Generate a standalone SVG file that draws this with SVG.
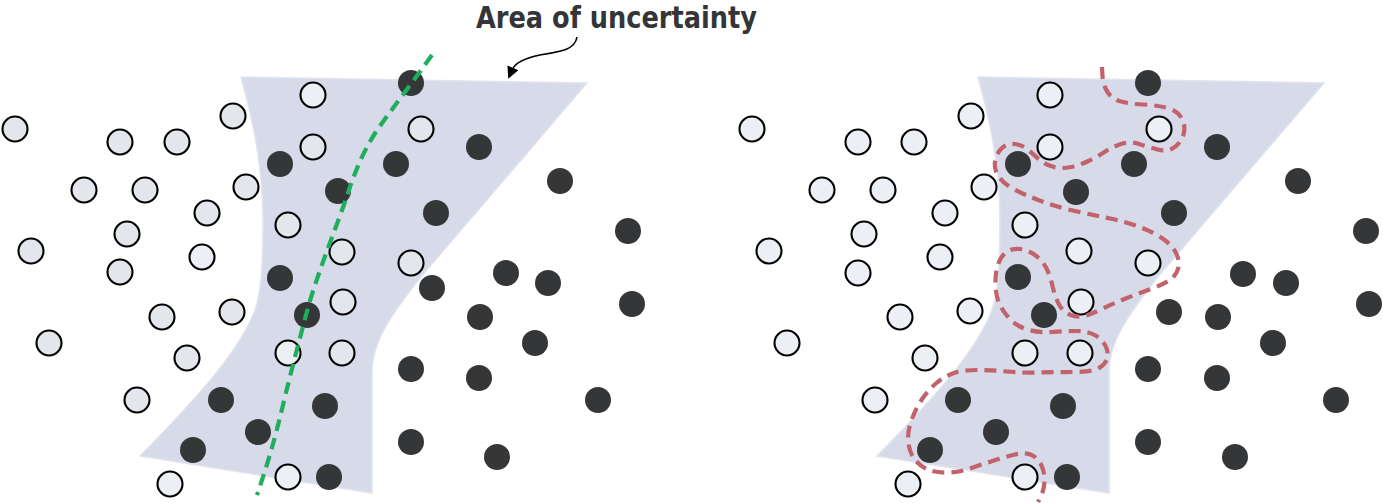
<svg xmlns="http://www.w3.org/2000/svg" width="1383" height="503" viewBox="0 0 1383 503">
<style>
.region{fill:#d6dae9;stroke:#e1e4ee;stroke-width:1.5}
.lt{fill:#e3e6ea;stroke:#000;stroke-width:2.1}
.lt2{fill:#eceff3;stroke:#000;stroke-width:2.1}
.dk{fill:#353638}
.green{fill:none;stroke:#1fae5a;stroke-width:4.2;stroke-dasharray:12 7}
.red{fill:none;stroke:#c2626b;stroke-width:4.2;stroke-dasharray:12 7}
.label{font-family:"DejaVu Sans Condensed","DejaVu Sans",sans-serif;font-stretch:condensed;font-weight:bold;font-size:31px;fill:#333538}
</style>
<defs>
<path id="shape" d="M241,77 L587,83 L420,278 C395,310 372,340 372,372 L372,493 L140,456 C200,395 240,350 255,310 C262,290 263,260 263,220 C263,160 250,110 241,77 Z"/>
<marker id="ah" viewBox="0 0 10 10" refX="2" refY="5" markerWidth="12" markerHeight="12" markerUnits="userSpaceOnUse" orient="auto">
<path d="M0,0 L10,5 L0,10 z" fill="#000"/>
</marker>
</defs>
<g id="left-panel">
<use href="#shape" class="region"/>
<g id="left-points">
<circle class="lt" cx="15" cy="129" r="12.5"/>
<circle class="lt" cx="120" cy="142" r="12.5"/>
<circle class="lt" cx="177" cy="142" r="12.5"/>
<circle class="lt" cx="233" cy="116" r="12.5"/>
<circle class="lt" cx="84" cy="190" r="12.5"/>
<circle class="lt" cx="145" cy="190" r="12.5"/>
<circle class="lt" cx="246" cy="187" r="12.5"/>
<circle class="lt" cx="207" cy="213" r="12.5"/>
<circle class="lt" cx="127" cy="234" r="12.5"/>
<circle class="lt" cx="31" cy="251" r="12.5"/>
<circle class="lt2" cx="202" cy="257" r="12.5"/>
<circle class="lt" cx="120" cy="272" r="12.5"/>
<circle class="lt" cx="162" cy="317" r="12.5"/>
<circle class="lt" cx="232" cy="312" r="12.5"/>
<circle class="lt" cx="49" cy="343" r="12.5"/>
<circle class="lt" cx="187" cy="358" r="12.5"/>
<circle class="lt" cx="137" cy="400" r="12.5"/>
<circle class="lt2" cx="170" cy="484" r="12.5"/>
<circle class="lt2" cx="313" cy="95" r="12.5"/>
<circle class="lt" cx="313" cy="147" r="12.5"/>
<circle class="lt" cx="288" cy="225" r="12.5"/>
<circle class="lt" cx="342" cy="252" r="12.5"/>
<circle class="lt" cx="343" cy="302" r="12.5"/>
<circle class="lt2" cx="288" cy="353" r="12.5"/>
<circle class="lt" cx="342" cy="353" r="12.5"/>
<circle class="lt2" cx="288" cy="477" r="12.5"/>
<circle class="lt" cx="421" cy="129" r="12.5"/>
<circle class="lt" cx="411" cy="263" r="12.5"/>
<circle class="dk" cx="280" cy="164" r="13"/>
<circle class="dk" cx="338" cy="191" r="13"/>
<circle class="dk" cx="280" cy="278" r="13"/>
<circle class="dk" cx="307" cy="315" r="13"/>
<circle class="dk" cx="221" cy="400" r="13"/>
<circle class="dk" cx="258" cy="432" r="13"/>
<circle class="dk" cx="193" cy="450" r="13"/>
<circle class="dk" cx="325" cy="406" r="13"/>
<circle class="dk" cx="329" cy="477" r="13"/>
<circle class="dk" cx="411" cy="83" r="13"/>
<circle class="dk" cx="479" cy="147" r="13"/>
<circle class="dk" cx="396" cy="164" r="13"/>
<circle class="dk" cx="560" cy="181" r="13"/>
<circle class="dk" cx="436" cy="213" r="13"/>
<circle class="dk" cx="628" cy="231" r="13"/>
<circle class="dk" cx="506" cy="273" r="13"/>
<circle class="dk" cx="548" cy="283" r="13"/>
<circle class="dk" cx="432" cy="288" r="13"/>
<circle class="dk" cx="632" cy="304" r="13"/>
<circle class="dk" cx="480" cy="317" r="13"/>
<circle class="dk" cx="535" cy="343" r="13"/>
<circle class="dk" cx="411" cy="369" r="13"/>
<circle class="dk" cx="479" cy="378" r="13"/>
<circle class="dk" cx="598" cy="400" r="13"/>
<circle class="dk" cx="411" cy="442" r="13"/>
<circle class="dk" cx="497" cy="457" r="13"/>
</g>
</g>
<g id="right-panel">
<use href="#shape" class="region" transform="translate(737,0)"/>
<g id="right-points">
<circle class="lt2" cx="752" cy="129" r="12.5"/>
<circle class="lt2" cx="858" cy="142" r="12.5"/>
<circle class="lt2" cx="914" cy="142" r="12.5"/>
<circle class="lt2" cx="971" cy="116" r="12.5"/>
<circle class="lt2" cx="822" cy="190" r="12.5"/>
<circle class="lt2" cx="883" cy="190" r="12.5"/>
<circle class="lt2" cx="984" cy="187" r="12.5"/>
<circle class="lt2" cx="945" cy="213" r="12.5"/>
<circle class="lt2" cx="864" cy="234" r="12.5"/>
<circle class="lt2" cx="769" cy="251" r="12.5"/>
<circle class="lt2" cx="940" cy="257" r="12.5"/>
<circle class="lt2" cx="858" cy="273" r="12.5"/>
<circle class="lt2" cx="900" cy="317" r="12.5"/>
<circle class="lt2" cx="970" cy="311" r="12.5"/>
<circle class="lt2" cx="787" cy="343" r="12.5"/>
<circle class="lt2" cx="925" cy="358" r="12.5"/>
<circle class="lt2" cx="875" cy="400" r="12.5"/>
<circle class="lt2" cx="908" cy="484" r="12.5"/>
<circle class="lt2" cx="1050" cy="95" r="12.5"/>
<circle class="lt2" cx="1050" cy="147" r="12.5"/>
<circle class="lt2" cx="1025" cy="225" r="12.5"/>
<circle class="lt2" cx="1079" cy="251" r="12.5"/>
<circle class="lt2" cx="1081" cy="302" r="12.5"/>
<circle class="lt2" cx="1025" cy="353" r="12.5"/>
<circle class="lt2" cx="1080" cy="353" r="12.5"/>
<circle class="lt2" cx="1025" cy="477" r="12.5"/>
<circle class="lt2" cx="1159" cy="129" r="12.5"/>
<circle class="lt2" cx="1148" cy="263" r="12.5"/>
<circle class="dk" cx="1018" cy="164" r="13"/>
<circle class="dk" cx="1076" cy="192" r="13"/>
<circle class="dk" cx="1018" cy="277" r="13"/>
<circle class="dk" cx="1044" cy="315" r="13"/>
<circle class="dk" cx="958" cy="400" r="13"/>
<circle class="dk" cx="996" cy="432" r="13"/>
<circle class="dk" cx="930" cy="450" r="13"/>
<circle class="dk" cx="1063" cy="406" r="13"/>
<circle class="dk" cx="1067" cy="477" r="13"/>
<circle class="dk" cx="1148" cy="83" r="13"/>
<circle class="dk" cx="1217" cy="147" r="13"/>
<circle class="dk" cx="1134" cy="164" r="13"/>
<circle class="dk" cx="1298" cy="181" r="13"/>
<circle class="dk" cx="1174" cy="213" r="13"/>
<circle class="dk" cx="1366" cy="231" r="13"/>
<circle class="dk" cx="1243" cy="274" r="13"/>
<circle class="dk" cx="1286" cy="283" r="13"/>
<circle class="dk" cx="1169" cy="312" r="13"/>
<circle class="dk" cx="1369" cy="304" r="13"/>
<circle class="dk" cx="1218" cy="317" r="13"/>
<circle class="dk" cx="1273" cy="343" r="13"/>
<circle class="dk" cx="1148" cy="369" r="13"/>
<circle class="dk" cx="1217" cy="378" r="13"/>
<circle class="dk" cx="1336" cy="400" r="13"/>
<circle class="dk" cx="1148" cy="442" r="13"/>
<circle class="dk" cx="1235" cy="457" r="13"/>
</g>
</g>
<g id="connectors">
<path id="linear-boundary" class="green" d="M432,55 L421.5,69.5 Q411,84 400.5,98 Q390,112 380,126 Q370,140 362.5,156 Q355,172 349.5,188.5 Q344,205 337.5,222.5 Q331,240 325.5,255 Q320,270 315,285 Q310,300 306,315 Q302,330 295.5,355 Q289,380 283,405 Q277,430 272,447.5 Q267,465 262,480 L257,495"/>
<path id="overfit-boundary" class="red" d="M1102,67 L1102.5,76 Q1103,85 1107.5,92 Q1112,99 1121,101.5 Q1130,104 1142.5,104.5 Q1155,105 1166,107.5 Q1177,110 1181.5,118 Q1186,126 1183.5,134.5 Q1181,143 1174,147.5 Q1167,152 1157.5,149.5 Q1148,147 1139,144 Q1130,141 1121,144 Q1112,147 1104.5,152 Q1097,157 1088.5,161 Q1080,165 1071,167 Q1062,169 1054,167 Q1046,165 1040.5,160.5 Q1035,156 1029,150.5 Q1023,145 1015,144 Q1007,143 1001.5,148.5 Q996,154 995,162 Q994,170 999,177 Q1004,184 1014.5,189.5 Q1025,195 1041,201 Q1057,207 1075,211 Q1093,215 1110,218.5 Q1127,222 1141,227.5 Q1155,233 1164,239.5 Q1173,246 1176.5,254 Q1180,262 1178,269 Q1176,276 1169,280.5 Q1162,285 1149.5,289.5 Q1137,294 1124.5,299 Q1112,304 1103,308.5 Q1094,313 1086,315.5 Q1078,318 1070.5,315 Q1063,312 1059,304.5 Q1055,297 1052.5,286 Q1050,275 1046,267.5 Q1042,260 1035,255 Q1028,250 1020,249 Q1012,248 1006,252.5 Q1000,257 997.5,266 Q995,275 995.5,286 Q996,297 1000,305 Q1004,313 1011,320 Q1018,327 1029,330 Q1040,333 1052.5,332 Q1065,331 1076.5,331 Q1088,331 1095.5,335.5 Q1103,340 1106,347 Q1109,354 1106.5,360 Q1104,366 1097,369 Q1090,372 1073.5,372 Q1057,372 1040,372.5 Q1023,373 1006.5,371.5 Q990,370 976.5,370 Q963,370 954,373 Q945,376 936.5,383 Q928,390 921.5,400 Q915,410 911,421.5 Q907,433 908.5,443.5 Q910,454 915.5,460.5 Q921,467 929,470 Q937,473 948.5,472.5 Q960,472 971.5,468 Q983,464 994,460.5 Q1005,457 1015,454.5 Q1025,452 1031.5,455 Q1038,458 1041.5,465.5 Q1045,473 1044.5,481.5 Q1044,490 1041,496 L1038,502"/>
<path id="label-arrow" d="M577,37 C575,50 560,52 540,55 C525,58 515,63 512,70" fill="none" stroke="#000" stroke-width="1.6" marker-end="url(#ah)"/>
</g>
<g id="label">
<text class="label" x="476" y="28" textLength="281" lengthAdjust="spacingAndGlyphs">Area of uncertainty</text>
</g>
</svg>
